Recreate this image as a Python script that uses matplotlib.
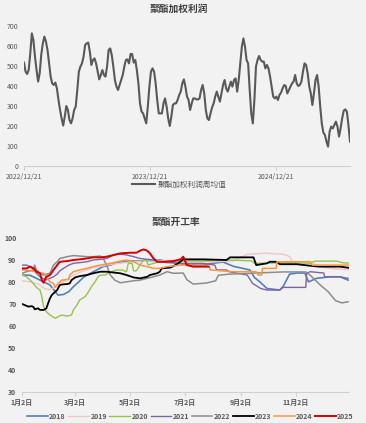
"""
聚酯利润 / 开工率 两图合一
  上 : 聚酯加权利润周均值 (2022/12/21 起)
  下 : 聚酯开工率 季节性 (2018-2025)
输出: out.png
"""

import numpy as np
import pandas as pd
import matplotlib
matplotlib.use("Agg")
import matplotlib.pyplot as plt

# ── 上图数据 ─────────────────────────────────────────────────────────────────

PROFIT_START = "2022-12-21"
PROFIT_END   = "2025-07-25"
PROFIT = [
    517, 472, 460, 480, 563, 663, 630, 547, 480, 422, 463, 555, 613, 647, 622,
    580, 513, 447, 413, 405, 417, 388, 330, 280, 238, 202, 247, 300, 280, 230,
    213, 238, 280, 297, 380, 472, 497, 513, 547, 605, 613, 617, 572, 505, 530,
    538, 513, 472, 433, 455, 480, 455, 447, 497, 580, 588, 555, 497, 430, 397,
    380, 405, 430, 455, 497, 530, 533, 513, 560, 560, 517, 530, 480, 413, 313,
    272, 263, 238, 213, 297, 397, 472, 488, 472, 413, 330, 263, 263, 263, 313,
    338, 297, 238, 200, 247, 305, 313, 313, 330, 355, 372, 413, 433, 397, 347,
    330, 280, 313, 338, 338, 333, 333, 338, 380, 405, 363, 280, 238, 230, 263,
    293, 313, 347, 372, 347, 322, 363, 405, 430, 388, 372, 397, 422, 397, 430,
    438, 372, 430, 513, 597, 638, 597, 530, 513, 380, 263, 213, 330, 497, 530,
    550, 530, 522, 522, 488, 505, 488, 447, 397, 347, 338, 347, 330, 355, 367,
    388, 405, 400, 363, 380, 397, 413, 422, 455, 413, 400, 405, 422, 472, 513,
    505, 463, 397, 363, 305, 363, 430, 455, 397, 297, 213, 167, 155, 122, 97,
    172, 197, 188, 205, 222, 197, 147, 188, 238, 277, 283, 272, 205, 122,
]
PROFIT_TICKS = ["2022-12-21", "2023-12-21", "2024-12-21"]

# ── 下图数据 (横轴 = 距 1月2日 的天数) ─────────────────────────────────────────

MONTH_TICKS  = [0, 59, 120, 181, 243, 304]
MONTH_LABELS = ["1月2日", "3月2日", "5月2日", "7月2日", "9月2日", "11月2日"]

DAY_2018  = [0, 9, 16, 24, 31, 37, 40, 46, 52, 57, 63, 68, 76, 83, 90, 98, 105, 113,
             120, 142, 153, 165, 179, 197, 223, 235, 253, 258, 264, 272, 286, 290,
             297, 305, 314, 318, 327, 342, 353, 362]
RATE_2018 = [83.1, 83.0, 81.6, 80.0, 78.6, 75.6, 74.0, 74.3, 75.6, 77.8, 80.0, 82.0,
             83.9, 85.4, 86.9, 87.6, 88.7, 89.1, 89.4, 89.4, 89.9, 89.0, 88.0, 87.6,
             89.0, 87.0, 85.4, 82.0, 80.0, 77.0, 76.3, 78.0, 83.5, 84.0, 84.0, 80.0,
             81.6, 82.3, 82.3, 80.8]

DAY_2019  = [0, 9, 18, 25, 30, 37, 45, 55, 65, 80, 100, 120, 150, 180, 210, 235,
             250, 270, 290, 297, 300, 320, 330, 345, 362]
RATE_2019 = [80.5, 80.0, 79.0, 77.0, 76.5, 77.5, 80.0, 82.5, 84.5, 86.5, 88.0, 89.0,
             89.5, 90.0, 89.0, 89.5, 92.5, 93.0, 92.5, 91.5, 89.1, 89.1, 87.0, 86.0,
             85.5]

DAY_2020  = [0, 5, 11, 16, 20, 22, 24, 27, 31, 37, 40, 44, 50, 55, 57, 61, 64, 70,
             74, 77, 81, 85, 88, 92, 96, 100, 105, 111, 116, 118, 122, 124, 127, 131,
             135, 138, 140, 146, 153, 175, 200, 230, 255, 258, 300, 320, 325, 350,
             355, 362]
RATE_2020 = [83.1, 82.3, 80.0, 77.5, 76.3, 73.3, 68.8, 66.5, 65.0, 63.5, 64.2, 65.0,
             64.5, 65.0, 67.3, 69.5, 71.8, 73.3, 75.6, 77.8, 80.0, 82.6, 83.1, 83.1,
             83.9, 84.6, 85.4, 85.4, 84.6, 88.4, 88.4, 85.0, 85.0, 87.6, 89.9, 89.9,
             87.6, 88.4, 89.1, 89.4, 89.5, 89.9, 89.5, 88.4, 88.7, 88.4, 89.4, 89.4,
             88.7, 88.5]

DAY_2021  = [0, 5, 9, 13, 16, 20, 26, 31, 35, 39, 42, 46, 52, 57, 64, 72, 79, 87,
             94, 102, 109, 116, 124, 131, 139, 146, 153, 161, 176, 201, 214, 216,
             227, 230, 250, 256, 265, 272, 286, 290, 315, 316, 320, 335, 336, 353,
             362]
RATE_2021 = [87.6, 87.6, 86.9, 85.4, 83.9, 82.3, 80.8, 81.6, 82.3, 83.5, 85.0, 86.1,
             87.6, 88.4, 88.7, 89.1, 89.9, 90.2, 90.6, 92.2, 92.6, 92.2, 91.4, 90.6,
             90.2, 89.9, 89.1, 88.7, 88.4, 88.4, 87.6, 85.4, 85.4, 84.6, 83.1, 79.3,
             77.0, 76.3, 76.3, 77.5, 77.5, 83.9, 84.6, 84.0, 82.3, 82.3, 81.6]

DAY_2022  = [0, 5, 13, 14, 16, 20, 24, 27, 31, 35, 39, 42, 50, 57, 64, 72, 79, 87,
             90, 94, 98, 103, 109, 116, 124, 131, 139, 146, 153, 161, 168, 179, 183,
             190, 205, 215, 218, 230, 260, 290, 315, 320, 330, 340, 348, 355, 362]
RATE_2022 = [83.9, 84.6, 85.4, 87.6, 85.4, 83.9, 83.1, 83.5, 83.9, 87.6, 89.1, 90.6,
             91.4, 91.9, 91.7, 91.4, 91.4, 91.7, 90.6, 87.6, 83.1, 80.8, 79.6, 80.0,
             80.5, 80.8, 81.6, 82.3, 83.1, 84.6, 83.9, 84.0, 81.0, 79.0, 79.5, 80.5,
             83.0, 83.5, 84.0, 84.5, 84.5, 83.0, 79.0, 75.5, 71.5, 70.5, 71.0]

DAY_2023  = [0, 3, 7, 11, 13, 14, 18, 20, 24, 27, 29, 31, 33, 35, 39, 42, 46, 50,
             53, 55, 59, 64, 72, 79, 87, 94, 102, 109, 116, 124, 131, 139, 142, 150,
             153, 155, 165, 172, 179, 201, 227, 231, 257, 260, 272, 275, 283, 286,
             305, 320, 330, 353, 362]
RATE_2023 = [70.0, 69.5, 68.8, 69.0, 68.5, 67.6, 68.0, 67.3, 67.3, 68.0, 70.3, 72.5,
             74.0, 74.8, 76.3, 78.6, 78.9, 79.0, 79.3, 80.8, 82.0, 82.6, 83.1, 83.9,
             84.6, 84.6, 84.2, 83.9, 83.1, 82.0, 81.6, 82.3, 83.1, 83.9, 84.6, 86.1,
             86.5, 88.0, 90.2, 90.2, 89.9, 91.1, 91.1, 87.6, 88.4, 89.1, 89.1, 88.0,
             88.0, 87.3, 86.9, 86.9, 86.4]

DAY_2024  = [0, 10, 20, 24, 31, 35, 37, 40, 44, 52, 53, 57, 64, 72, 79, 87, 94, 102,
             109, 116, 124, 131, 139, 146, 153, 161, 176, 201, 208, 209, 235, 260,
             262, 266, 267, 282, 283, 320, 322, 353, 362]
RATE_2024 = [85.5, 85.0, 84.0, 83.9, 80.0, 79.3, 77.5, 79.3, 80.8, 81.1, 83.1, 84.6,
             85.4, 86.1, 86.9, 87.6, 88.1, 88.7, 89.4, 89.9, 89.1, 87.6, 86.9, 86.1,
             86.1, 86.9, 87.6, 87.6, 86.9, 85.4, 84.6, 84.6, 83.1, 83.1, 86.1, 86.1,
             89.1, 89.1, 87.6, 87.6, 87.6]

DAY_2025  = [0, 5, 9, 13, 16, 20, 22, 24, 26, 27, 31, 35, 39, 42, 50, 57, 64, 72,
             79, 87, 94, 102, 109, 120, 127, 131, 135, 139, 142, 146, 150, 157, 168,
             176, 179, 183, 190, 207]
RATE_2025 = [86.1, 86.1, 86.9, 86.1, 84.6, 83.9, 80.8, 79.6, 81.6, 82.3, 83.1, 85.4,
             87.6, 89.1, 89.4, 89.9, 90.2, 90.6, 91.1, 91.1, 91.4, 92.2, 92.9, 93.2,
             93.2, 94.1, 94.7, 94.1, 92.9, 90.6, 89.1, 89.1, 89.4, 90.2, 91.4, 87.6,
             86.9, 86.9]

YEARS  = ["2018", "2019", "2020", "2021", "2022", "2023", "2024", "2025"]
DAYS   = [DAY_2018, DAY_2019, DAY_2020, DAY_2021, DAY_2022, DAY_2023, DAY_2024, DAY_2025]
RATES  = [RATE_2018, RATE_2019, RATE_2020, RATE_2021, RATE_2022, RATE_2023, RATE_2024, RATE_2025]

# ── 样式 ──────────────────────────────────────────────────────────────────────

BG      = "#f2f2f2"
TXT     = "#595959"
AXLINE  = "#d0d0d0"
COLORS  = ["#4f81bd", "#f2c4c4", "#93c54b", "#8064a2", "#8c8c8c", "#000000", "#f79646", "#d40000"]
WIDTHS  = [1.2, 1.0, 1.0, 1.0, 1.1, 1.3, 1.1, 1.4]

plt.rcParams.update({
    "font.family": ["Noto Sans CJK SC", "DejaVu Sans"],
    "figure.facecolor": BG,
    "axes.facecolor": BG,
    "text.color": TXT,
    "xtick.color": TXT,
    "ytick.color": TXT,
})

W, H = 366, 423
fig = plt.figure(figsize=(W / 100, H / 100), dpi=100)

# ── 上图 ──────────────────────────────────────────────────────────────────────

ax1 = fig.add_axes([24 / W, 1 - 166 / H, 326 / W, 140 / H])
dates = pd.date_range(PROFIT_START, PROFIT_END, periods=len(PROFIT))
ax1.plot(dates, PROFIT, color="#595959", linewidth=1.5, label="聚酯加权利润周均值")
ax1.set_xlim(dates[0], dates[-1])
ax1.set_ylim(0, 700)
ax1.set_yticks(range(0, 701, 100))
ticks = pd.to_datetime(PROFIT_TICKS)
ax1.set_xticks(ticks)
ax1.set_xticklabels([t.strftime("%Y/%m/%d") for t in ticks])
for s in ["top", "right", "left"]:
    ax1.spines[s].set_visible(False)
ax1.spines["bottom"].set_color(AXLINE)
ax1.tick_params(axis="y", length=0, labelsize=5, pad=4)
ax1.tick_params(axis="x", length=3, color=AXLINE, labelsize=5, pad=2)
fig.text(0.49, 1 - 9 / H, "聚酯加权利润", ha="center", va="center",
         fontsize=7, fontweight="bold", color="#404040")
fig.legend(*ax1.get_legend_handles_labels(), loc="center",
           bbox_to_anchor=(0.49, 1 - 185 / H), frameon=False, fontsize=5.5,
           handlelength=3.0, handletextpad=0.3)

# ── 下图 ──────────────────────────────────────────────────────────────────────

ax2 = fig.add_axes([22 / W, 1 - 392.3 / H, 327 / W, 154.6 / H])
for yr, d, r, c, lw in zip(YEARS, DAYS, RATES, COLORS, WIDTHS):
    ax2.plot(d, r, color=c, linewidth=lw, label=yr)
ax2.set_xlim(0, 363)
ax2.set_ylim(30, 100)
ax2.set_yticks(range(30, 101, 10))
ax2.set_xticks(MONTH_TICKS)
ax2.set_xticklabels(MONTH_LABELS)
for s in ["top", "right", "left"]:
    ax2.spines[s].set_visible(False)
ax2.spines["bottom"].set_color(AXLINE)
ax2.tick_params(axis="y", length=0, labelsize=5, pad=4)
ax2.tick_params(axis="x", length=3, color=AXLINE, labelsize=5, pad=2)
for lb in ax2.get_xticklabels() + ax2.get_yticklabels():
    lb.set_fontweight("bold")
fig.text(0.48, 1 - 222 / H, "聚酯开工率", ha="center", va="center",
         fontsize=7, fontweight="bold", color="#404040")
leg = fig.legend(*ax2.get_legend_handles_labels(), loc="center", ncol=8,
                 bbox_to_anchor=(0.52, 1 - 416 / H), frameon=False, fontsize=5,
                 handlelength=3.0, handletextpad=0.2, columnspacing=0.35)
for t in leg.get_texts():
    t.set_fontweight("bold")

fig.savefig("out.png", dpi=100, facecolor=BG)
